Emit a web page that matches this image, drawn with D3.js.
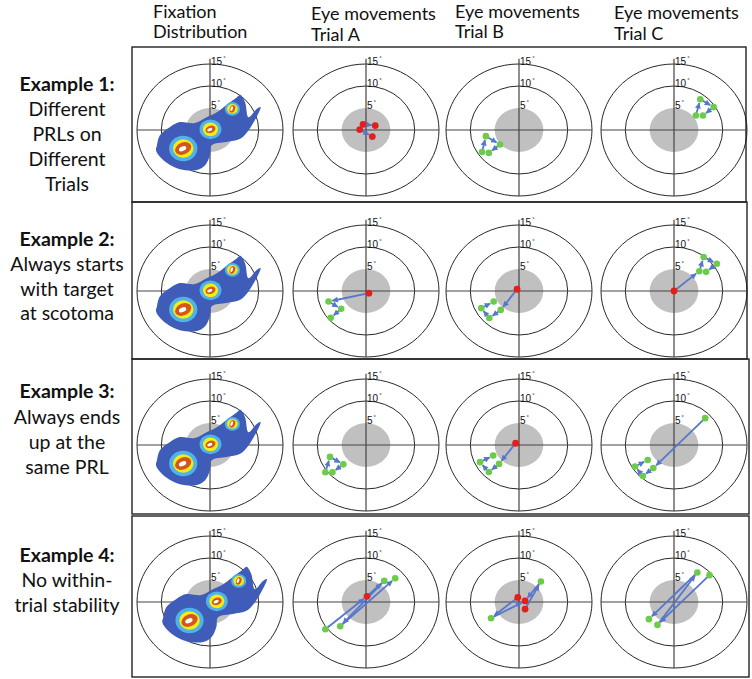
<!DOCTYPE html>
<html><head><meta charset="utf-8">
<script src="https://cdn.jsdelivr.net/npm/d3@7"></script>
<style>html,body{margin:0;padding:0;background:#fff;}svg{display:block;}</style>
</head><body>
<script>
// ---------- text ----------
const columnTitles = [["Fixation","Distribution"],["Eye movements","Trial A"],["Eye movements","Trial B"],["Eye movements","Trial C"]];
const rowTitles = [
  ["Example 1:","Different","PRLs on","Different","Trials"],
  ["Example 2:","Always starts","with target","at scotoma"],
  ["Example 3:","Always ends","up at the","same PRL"],
  ["Example 4:","No within-","trial stability"]
];
const ringDegrees = [10, 15];
const scotomaDegree = 5;
const tickDegrees = [5, 10, 15];
const tickLabels = ["5", "10", "15"];

// ---------- fixation distribution (degrees) ----------
const blobOutline = [[-10.9,-3.45],[-10.3,-1.2],[-8.2,0.7],[-6.2,1.8],[-3.1,1.6],[-0.7,2.9],[1.4,4.05],[4.1,6.3],[5.5,7.4],[6.2,8.0],[7.2,6.3],[7.9,2.9],[9.6,4.8],[10.4,5.2],[9.9,3.7],[7.9,-0.1],[6.2,-2.0],[3.4,-2.7],[0.35,-3.45],[0,-5.7],[-1.0,-8.0],[-2.7,-9.1],[-6.2,-8.9],[-8.3,-7.9],[-10.2,-6.2],[-11.1,-4.6]];
const hotspotCenters = [[-5.5,-4.2],[0.1,0.15],[4.6,4.8]];
const hotspotOuter = [2.9, 2.25, 1.55];
const hotspotMid = [2.1, 1.55, 1.1];
const hotspotCore = [[1.75,1.35,-25],[1.05,0.8,-20],[0.55,0.9,20]];
const hotspotInner = [[0.8,0.5,-25],[0.55,0.35,-20],[0.25,0.55,20]];
const distributionShift = [0, 0, 0, 1.3];

// ---------- eye movements (degrees) ----------
const ex1A_red = [[-1.3,0.1],[-0.6,1.3],[1.9,1.0],[1.3,-1.5]];
const ex1A_green = [];
const ex1A_saccades = [[[-1.3,0.1],[-0.6,1.3]],[[-0.6,1.3],[1.9,1.0]],[[-1.3,0.1],[1.3,-1.5]]];
const ex1B_red = [];
const ex1B_green = [[-7.6,-5.0],[-6.8,-1.4],[-3.9,-3.3],[-6.2,-5.2]];
const ex1B_saccades = [[[-7.6,-5.0],[-6.8,-1.4]],[[-6.8,-1.4],[-3.9,-3.3]],[[-3.9,-3.3],[-6.2,-5.2]]];
const ex1C_red = [];
const ex1C_green = [[4.5,3.3],[5.4,7.0],[8.15,5.2],[5.95,3.3]];
const ex1C_saccades = [[[4.5,3.3],[5.4,7.0]],[[5.4,7.0],[8.15,5.2]],[[8.15,5.2],[5.95,3.3]]];

const ex2A_red = [[0.6,-0.5]];
const ex2A_green = [[-7.7,-2.4],[-5.1,-4.05],[-7.25,-6.1]];
const ex2A_saccades = [[[0.6,-0.5],[-7.7,-2.4]],[[-7.7,-2.4],[-5.1,-4.05]],[[-5.1,-4.05],[-7.25,-6.1]]];
const ex2B_red = [[-0.4,0.4]];
const ex2B_green = [[-3.75,-4.3],[-6.1,-6.15],[-7.75,-3.9],[-5.2,-2.4]];
const ex2B_saccades = [[[-0.4,0.4],[-3.75,-4.3]],[[-3.75,-4.3],[-6.1,-6.15]],[[-6.1,-6.15],[-7.75,-3.9]],[[-7.75,-3.9],[-5.2,-2.4]]];
const ex2C_red = [[0,0]];
const ex2C_green = [[5.2,4.5],[6.1,7.7],[8.8,6.2],[6.6,4.35]];
const ex2C_saccades = [[[0,0],[5.2,4.5]],[[5.2,4.5],[6.1,7.7]],[[6.1,7.7],[8.8,6.2]],[[8.8,6.2],[6.6,4.35]]];

const ex3A_red = [];
const ex3A_green = [[-8.35,-6.2],[-7.4,-2.7],[-4.65,-4.4],[-6.9,-6.2]];
const ex3A_saccades = [[[-8.35,-6.2],[-7.4,-2.7]],[[-7.4,-2.7],[-4.65,-4.4]],[[-4.65,-4.4],[-6.9,-6.2]]];
const ex3B_red = [[-0.7,0.4]];
const ex3B_green = [[-4.1,-4.3],[-6.2,-6.15],[-8.0,-3.9],[-5.3,-2.4]];
const ex3B_saccades = [[[-0.7,0.4],[-4.1,-4.3]],[[-4.1,-4.3],[-6.2,-6.15]],[[-6.2,-6.15],[-8.0,-3.9]],[[-8.0,-3.9],[-5.3,-2.4]]];
const ex3C_red = [];
const ex3C_green = [[6.4,6.1],[-4.25,-5.25],[-6.4,-7.05],[-8.0,-4.9],[-5.4,-3.4]];
const ex3C_saccades = [[[6.4,6.1],[-4.25,-5.25]],[[-4.25,-5.25],[-6.4,-7.05]],[[-6.4,-7.05],[-8.0,-4.9]],[[-8.0,-4.9],[-5.4,-3.4]]];

const ex4A_red = [[0.2,1.3]];
const ex4A_green = [[3.75,4.8],[-5.3,-5.5],[6.0,5.4],[-8.35,-6.2]];
const ex4A_saccades = [[[-8.35,-6.2],[0.2,1.3]],[[0.2,1.3],[3.75,4.8]],[[3.75,4.8],[-5.3,-5.5]],[[-5.3,-5.5],[6.0,5.4]]];
const ex4B_red = [[-0.25,1.05],[1.25,0.25],[1.25,-1.6]];
const ex4B_green = [[4.5,4.65],[-5.75,-3.7]];
const ex4B_saccades = [[[-0.25,1.05],[-5.75,-3.7]],[[-5.75,-3.7],[1.25,0.25]],[[1.25,-1.6],[4.5,4.65]],[[4.5,4.65],[1.25,0.25]]];
const ex4C_red = [];
const ex4C_green = [[4.8,6.7],[7.3,6.1],[-5.15,-3.9],[-3.4,-5.2]];
const ex4C_saccades = [[[7.3,6.1],[-3.4,-5.2]],[[-3.4,-5.2],[4.8,6.7]],[[4.8,6.7],[-5.15,-3.9]]];

const trials = [
  [[ex1A_red,ex1A_green,ex1A_saccades],[ex1B_red,ex1B_green,ex1B_saccades],[ex1C_red,ex1C_green,ex1C_saccades]],
  [[ex2A_red,ex2A_green,ex2A_saccades],[ex2B_red,ex2B_green,ex2B_saccades],[ex2C_red,ex2C_green,ex2C_saccades]],
  [[ex3A_red,ex3A_green,ex3A_saccades],[ex3B_red,ex3B_green,ex3B_saccades],[ex3C_red,ex3C_green,ex3C_saccades]],
  [[ex4A_red,ex4A_green,ex4A_saccades],[ex4B_red,ex4B_green,ex4B_saccades],[ex4C_red,ex4C_green,ex4C_saccades]]
];

// ---------- layout ----------
const W = 752, H = 679;
const colX = [210, 366, 519, 674];
const rowY = [130, 291, 445, 602];
const rowBoxes = [[47,202,746],[202,359,747],[359,514,749],[516,677,749]];
const boxLeft = 132;
const RX = 73, RY = 66;
const fontFam = "Lato, 'Liberation Sans', sans-serif";

const svg = d3.select("body").append("svg").attr("width", W).attr("height", H);
const defs = svg.append("defs");
defs.append("marker").attr("id","ah").attr("viewBox","0 0 10 10").attr("refX",9).attr("refY",5)
  .attr("markerWidth",7).attr("markerHeight",6).attr("markerUnits","userSpaceOnUse").attr("orient","auto")
  .append("path").attr("d","M0,0L10,5L0,10Z").attr("fill","#5777cc");

// column titles
const colTitleX = [153, 311, 455, 614];
const colTitleY = [[18,38],[20,41],[18,38],[19,40]];
columnTitles.forEach((lines, i) => {
  lines.forEach((t, j) => {
    svg.append("text").attr("x", colTitleX[i]).attr("y", colTitleY[i][j])
      .attr("font-family", fontFam).attr("font-size", 18).attr("fill", "#111").text(t);
  });
});

// row titles
const rowTitleY = [[91,116,141,166,191],[246,271,296,320],[398,424,449,474],[562,587,612]];
rowTitles.forEach((lines, i) => {
  lines.forEach((t, j) => {
    svg.append("text").attr("x", 67).attr("y", rowTitleY[i][j]).attr("text-anchor","middle")
      .attr("font-family", fontFam).attr("font-size", 19.5).attr("font-weight", j === 0 ? "bold" : "normal")
      .attr("fill", "#111").text(t);
  });
});

// boxes
rowBoxes.forEach(b => {
  svg.append("rect").attr("x", boxLeft).attr("y", b[0]).attr("width", b[2]-boxLeft).attr("height", b[1]-b[0])
    .attr("fill","none").attr("stroke","#222").attr("stroke-width",1.4);
});

function drawPanel(r, c) {
  const cx = colX[c], cy = rowY[r];
  const x = d3.scaleLinear().domain([-15,15]).range([cx-RX, cx+RX]);
  const y = d3.scaleLinear().domain([-15,15]).range([cy+RY, cy-RY]);
  const g = svg.append("g");
  // scotoma
  g.append("ellipse").attr("cx", x(0)).attr("cy", y(0))
    .attr("rx", x(scotomaDegree)-x(0)).attr("ry", y(0)-y(scotomaDegree)).attr("fill","#c0c0c0");
  // rings
  ringDegrees.forEach(d => {
    g.append("ellipse").attr("cx", x(0)).attr("cy", y(0)).attr("rx", x(d)-x(0)).attr("ry", y(0)-y(d))
      .attr("fill","none").attr("stroke","#111").attr("stroke-width",0.9);
  });
  // axes
  g.append("line").attr("x1", x(-15)).attr("x2", x(15)).attr("y1", y(0)).attr("y2", y(0))
    .attr("stroke","#444").attr("stroke-width",1.2);
  g.append("line").attr("x1", x(0)).attr("x2", x(0)).attr("y1", y(16.2)).attr("y2", y(-15))
    .attr("stroke","#444").attr("stroke-width",1.2);
  // tick labels
  tickDegrees.forEach((d, k) => {
    const t = g.append("text").attr("x", x(0)+1).attr("y", y(d)+0.5)
      .attr("font-family","'Liberation Sans', Arial, sans-serif").attr("font-size",10).attr("fill","#111");
    t.append("tspan").text(tickLabels[k]);
    t.append("tspan").attr("font-size",6).attr("dy",-5).attr("dx",1).text("°");
  });
  if (c === 0) {
    const sh = distributionShift[r];
    const line = d3.line().x(d => x(d[0]+sh)).y(d => y(d[1])).curve(d3.curveCatmullRomClosed.alpha(0.5));
    g.append("path").attr("d", line(blobOutline)).attr("fill","#3e5cb8");
    hotspotCenters.forEach((hc, k) => {
      const hx = x(hc[0]+sh), hy = y(hc[1]);
      const sx = x(1)-x(0), sy = y(0)-y(1);
      g.append("ellipse").attr("cx",hx).attr("cy",hy).attr("rx",hotspotOuter[k]*sx).attr("ry",hotspotOuter[k]*sy).attr("fill","#4fb3ea");
      g.append("ellipse").attr("cx",hx).attr("cy",hy).attr("rx",hotspotMid[k]*sx).attr("ry",hotspotMid[k]*sy).attr("fill","#f4ec14");
      g.append("ellipse").attr("cx",0).attr("cy",0).attr("rx",hotspotCore[k][0]*sx).attr("ry",hotspotCore[k][1]*sy)
        .attr("transform",`translate(${hx},${hy}) rotate(${hotspotCore[k][2]})`).attr("fill","#d5561c");
      g.append("ellipse").attr("cx",-0.15*sx).attr("cy",0).attr("rx",hotspotInner[k][0]*sx).attr("ry",hotspotInner[k][1]*sy)
        .attr("transform",`translate(${hx},${hy}) rotate(${hotspotInner[k][2]})`).attr("fill","#ffffff");
    });
  } else {
    const [reds, greens, sacc] = trials[r][c-1];
    sacc.forEach(s => {
      const x1 = x(s[0][0]), y1 = y(s[0][1]), x2 = x(s[1][0]), y2 = y(s[1][1]);
      const len = Math.hypot(x2-x1, y2-y1);
      const cut = Math.min(4, len*0.3);
      const ux = (x2-x1)/len, uy = (y2-y1)/len;
      g.append("line").attr("x1", x1).attr("y1", y1).attr("x2", x2-ux*cut).attr("y2", y2-uy*cut)
        .attr("stroke","#5777cc").attr("stroke-width",1.8).attr("marker-end","url(#ah)");
    });
    g.selectAll(null).data(greens).enter().append("circle")
      .attr("cx", d => x(d[0])).attr("cy", d => y(d[1])).attr("r", 3.3).attr("fill","#6ccc4a");
    g.selectAll(null).data(reds).enter().append("circle")
      .attr("cx", d => x(d[0])).attr("cy", d => y(d[1])).attr("r", 3.4).attr("fill","#e0201c");
  }
}
for (let r = 0; r < 4; r++) for (let c = 0; c < 4; c++) drawPanel(r, c);
</script>
</body></html>
